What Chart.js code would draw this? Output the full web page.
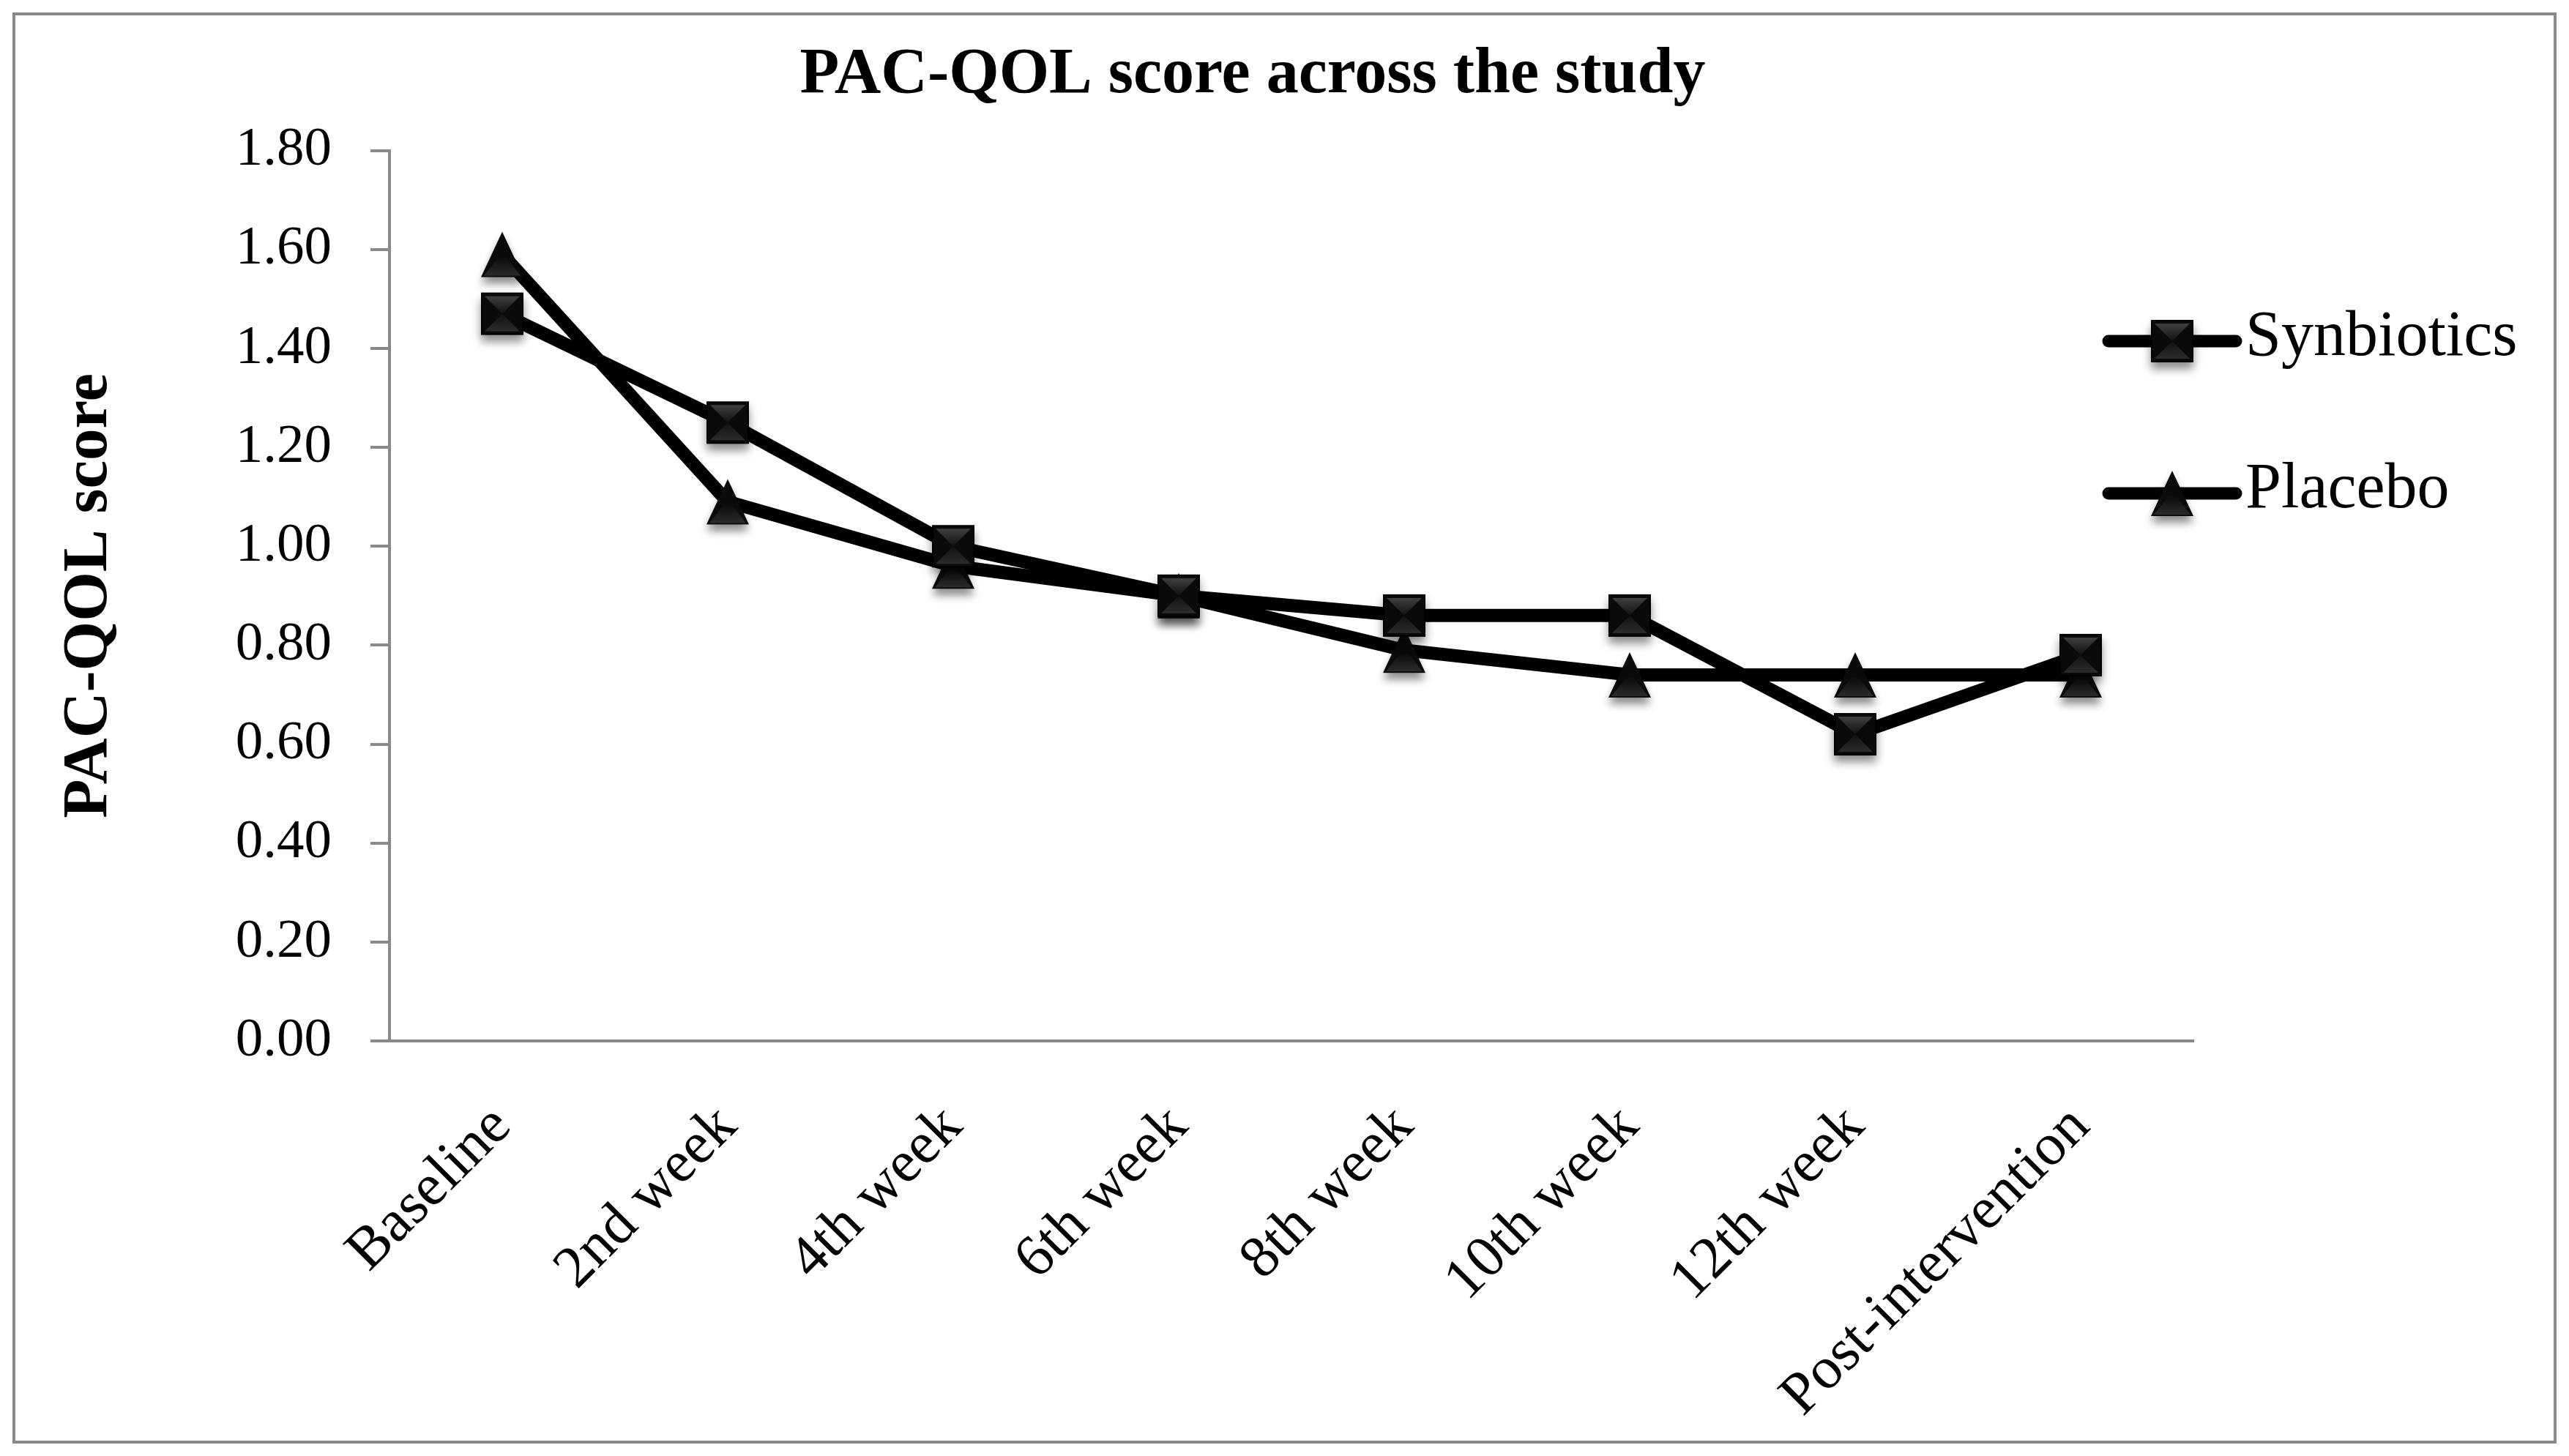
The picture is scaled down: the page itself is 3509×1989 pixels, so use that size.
<!DOCTYPE html>
<html><head><meta charset="utf-8">
<script src="https://cdn.jsdelivr.net/npm/chart.js@4.4.1/dist/chart.umd.min.js"></script>
<style>html,body{margin:0;padding:0;background:#fff}canvas{display:block}</style>
</head><body>
<canvas id="c" width="3509" height="1989"></canvas>
<script>
// ---- data ----
const categories = ['Baseline', '2nd week', '4th week', '6th week', '8th week', '10th week', '12th week', 'Post-intervention'];
const synbiotics = [1.47, 1.25, 1.00, 0.90, 0.86, 0.86, 0.62, 0.78];
const placebo = [1.59, 1.09, 0.96, 0.90, 0.79, 0.74, 0.74, 0.74];
const seriesNames = ['Synbiotics', 'Placebo'];
const yMin = 0, yMax = 1.8, yStep = 0.2;
const chartTitle = 'PAC-QOL score across the study';
const yAxisTitle = 'PAC-QOL score';

// ---- styling ----
const FONT = "'Liberation Serif', 'Times New Roman', serif";
const AXIS = '#898989';
const W = 3509, H = 1989;
const PAD = {left: 20, right: 107, top: 20, bottom: 20};
const AREA = {left: 532, right: 2996, top: 206, bottom: 1422};

function makeSquare(side) {
  const pad = 28, c = document.createElement('canvas');
  c.width = c.height = side + 2 * pad;
  const g = c.getContext('2d');
  const x0 = pad, y0 = pad, cx = pad + side / 2, cy = pad + side / 2;
  g.save();
  g.shadowColor = 'rgba(0,0,0,0.45)'; g.shadowBlur = 12; g.shadowOffsetY = 9;
  g.fillStyle = '#0a0a0a'; g.fillRect(x0, y0, side, side);
  g.restore();
  let gr = g.createLinearGradient(0, y0, 0, cy);
  gr.addColorStop(0, '#4a4a4a'); gr.addColorStop(1, '#111');
  g.fillStyle = gr;
  g.beginPath(); g.moveTo(x0 + 5, y0 + 5); g.lineTo(x0 + side - 5, y0 + 5); g.lineTo(cx, cy); g.closePath(); g.fill();
  gr = g.createLinearGradient(0, cy, 0, y0 + side);
  gr.addColorStop(0, '#111'); gr.addColorStop(1, '#333');
  g.fillStyle = gr;
  g.beginPath(); g.moveTo(x0 + 5, y0 + side - 5); g.lineTo(x0 + side - 5, y0 + side - 5); g.lineTo(cx, cy); g.closePath(); g.fill();
  g.strokeStyle = '#000'; g.lineWidth = 2; g.strokeRect(x0 + 1, y0 + 1, side - 2, side - 2);
  return c;
}
function makeTriangle(w, h) {
  const pad = 28, c = document.createElement('canvas');
  c.width = w + 2 * pad; c.height = h + 2 * pad;
  const g = c.getContext('2d');
  const cx = c.width / 2, top = pad, bot = pad + h;
  g.save();
  g.shadowColor = 'rgba(0,0,0,0.45)'; g.shadowBlur = 12; g.shadowOffsetY = 9;
  g.fillStyle = '#0a0a0a';
  g.beginPath(); g.moveTo(cx, top); g.lineTo(cx + w / 2, bot); g.lineTo(cx - w / 2, bot); g.closePath(); g.fill();
  g.restore();
  const gr = g.createLinearGradient(0, top + h * 0.55, 0, bot);
  gr.addColorStop(0, '#0a0a0a'); gr.addColorStop(1, '#2e2e2e');
  g.fillStyle = gr;
  g.beginPath(); g.moveTo(cx, top + h * 0.45); g.lineTo(cx + w / 2 - 4, bot - 2); g.lineTo(cx - w / 2 + 4, bot - 2); g.closePath(); g.fill();
  return c;
}
const squareImg = makeSquare(58);
const triangleImg = makeTriangle(58, 62);
const markerImgs = [squareImg, triangleImg];

const framePlugin = {
  id: 'frame',
  beforeDraw(chart) {
    const ctx = chart.ctx;
    ctx.save();
    ctx.fillStyle = '#fff'; ctx.fillRect(0, 0, W, H);
    ctx.strokeStyle = AXIS; ctx.lineWidth = 4;
    ctx.strokeRect(19, 19, W - 38, H - 38);
    ctx.restore();
  }
};

const legendPlugin = {
  id: 'sideLegend',
  afterDraw(chart) {
    const ctx = chart.ctx;
    const a = chart.chartArea;
    chart.data.datasets.forEach((ds, i) => {
      const y = 466 + i * 208;
      const x1 = a.right - 116, x2 = a.right + 58;
      ctx.save();
      ctx.strokeStyle = ds.borderColor; ctx.lineWidth = 17; ctx.lineCap = 'round';
      ctx.beginPath(); ctx.moveTo(x1, y); ctx.lineTo(x2, y); ctx.stroke();
      Chart.helpers.drawPoint(ctx, {pointStyle: ds.pointStyle, radius: 30, rotation: 0, borderWidth: 0}, (x1 + x2) / 2, y);
      ctx.fillStyle = '#000';
      ctx.font = '88px ' + FONT;
      ctx.textAlign = 'left'; ctx.textBaseline = 'middle';
      ctx.fillText(ds.label, x2 + 13, y - 4);
      ctx.restore();
    });
  }
};

new Chart(document.getElementById('c'), {
  type: 'line',
  data: {
    labels: categories,
    datasets: [
      {label: seriesNames[0], data: synbiotics, borderColor: '#000', backgroundColor: '#000', borderWidth: 18,
       pointStyle: markerImgs[0], pointRadius: 30, borderJoinStyle: 'round', borderCapStyle: 'round', tension: 0, yAxisID: 'y'},
      {label: seriesNames[1], data: placebo, borderColor: '#000', backgroundColor: '#000', borderWidth: 18,
       pointStyle: markerImgs[1], pointRadius: 30, borderJoinStyle: 'round', borderCapStyle: 'round', tension: 0, yAxisID: 'y'}
    ]
  },
  options: {
    responsive: false,
    animation: false,
    devicePixelRatio: 1,
    layout: {padding: PAD},
    plugins: {
      legend: {display: false},
      tooltip: {enabled: false},
      title: {
        display: true, text: chartTitle, color: '#000',
        font: {family: FONT, size: 88, weight: 'bold', lineHeight: 1.2},
        padding: {top: 30, bottom: 50}
      }
    },
    scales: {
      x: {
        type: 'category', offset: true,
        grid: {display: false},
        border: {display: true, color: AXIS, width: 4},
        ticks: {color: '#000', font: {family: FONT, size: 81}, maxRotation: 45, minRotation: 45, autoSkip: false, padding: 62},
        afterFit(s) { s.height = H - PAD.bottom - AREA.bottom; }
      },
      y: {
        position: 'left', min: yMin, max: yMax,
        grid: {drawOnChartArea: false, drawTicks: true, tickLength: 26, color: AXIS, lineWidth: 4},
        border: {display: true, color: AXIS, width: 4},
        ticks: {color: '#000', stepSize: yStep, padding: 53, font: {family: FONT, size: 75},
                callback: v => Number(v).toFixed(2)},
        title: {display: true, text: yAxisTitle, color: '#000', font: {family: FONT, size: 87, weight: 'bold', lineHeight: 1.2}, padding: {top: 50, bottom: 0}},
        afterFit(s) { s.width = AREA.left - PAD.left; }
      },
      spacer: {
        position: 'right', display: true,
        grid: {display: false}, border: {display: false}, ticks: {display: false},
        afterFit(s) { s.width = W - PAD.right - AREA.right; }
      }
    }
  },
  plugins: [framePlugin, legendPlugin]
});
</script>
</body></html>
